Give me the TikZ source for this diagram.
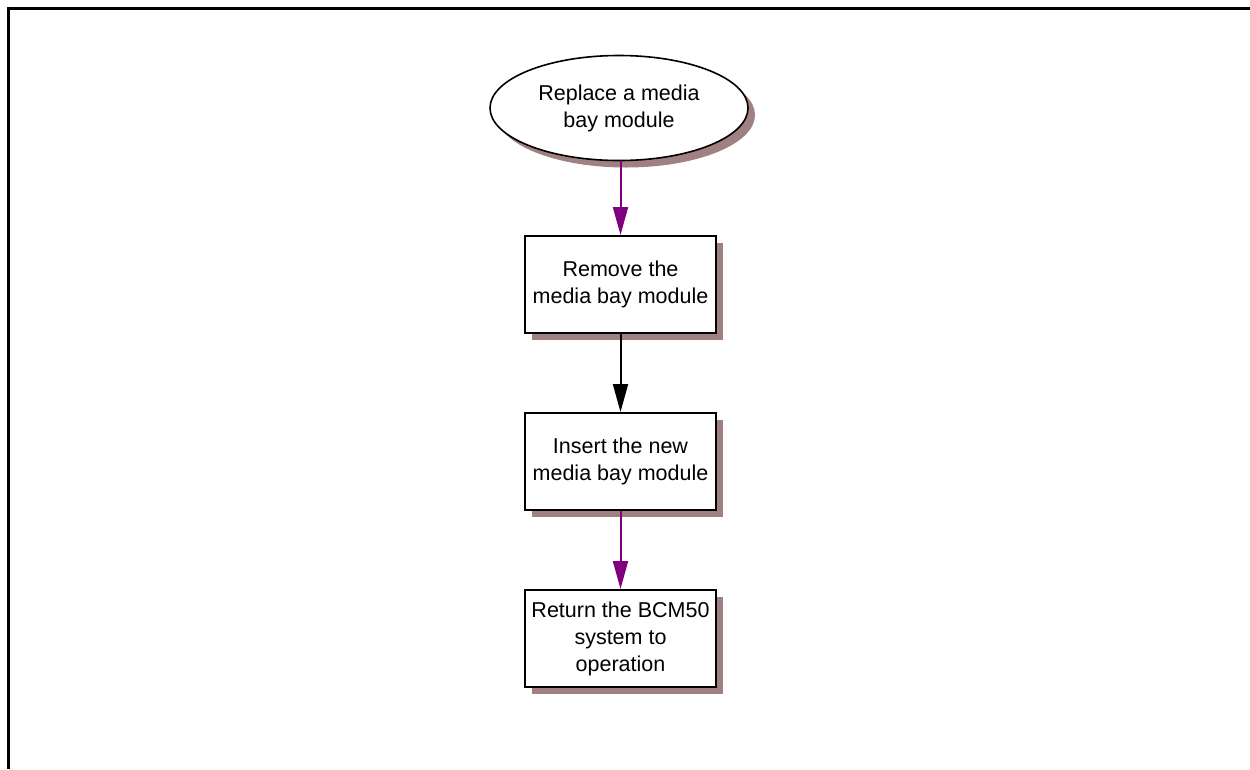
\documentclass[tikz,border=0pt]{standalone}
\usepackage{fontspec}
\setmainfont{Liberation Sans}
\usetikzlibrary{arrows.meta,shadows,shapes.geometric}
\definecolor{flowpurple}{HTML}{800080}
\definecolor{shadowbrown}{HTML}{A08080}

\begin{document}
\begin{tikzpicture}[x=1pt, y=-1pt,
  startoval/.style={ellipse, draw=black, line width=1.6pt, fill=white,
               minimum width=258pt, minimum height=105pt, align=center,
               font=\fontsize{21.5}{27}\selectfont, inner sep=0pt,
               drop shadow={shadow xshift=7pt, shadow yshift=-7pt,
                            fill=shadowbrown, opacity=1}},
  taskbox/.style={rectangle, draw=black, line width=2pt, fill=white,
               minimum width=191pt, minimum height=97pt, align=center,
               font=\fontsize{21.5}{27}\selectfont, inner sep=2pt,
               drop shadow={shadow xshift=7pt, shadow yshift=-7pt,
                            fill=shadowbrown, opacity=1}},
  link/.style={line width=2pt, -{Triangle[width=15pt, length=28pt]}},
]
\useasboundingbox (0,0) rectangle (1250,769);

% Frame (top and left edges only).
\draw[line width=3pt] (8,769) -- (8,8) -- (1250,8);

% Start of the procedure.
\node[startoval] (replace) at (619,108) {Replace a media\\bay module};

% Steps, top to bottom.
\node[taskbox] (remove) at (620.5,284.5) {Remove the\\media bay module};
\node[taskbox] (insert) at (620.5,461.5) {Insert the new\\media bay module};
\node[taskbox] (return) at (620.5,638.5) {Return the BCM50\\system to\\operation};

% Connectors.
\draw[link, flowpurple] (replace.south -| remove.north) -- (remove.north);
\draw[link, black] (remove) -- (insert);
\draw[link, flowpurple] (insert) -- (return);

\end{tikzpicture}
\end{document}
